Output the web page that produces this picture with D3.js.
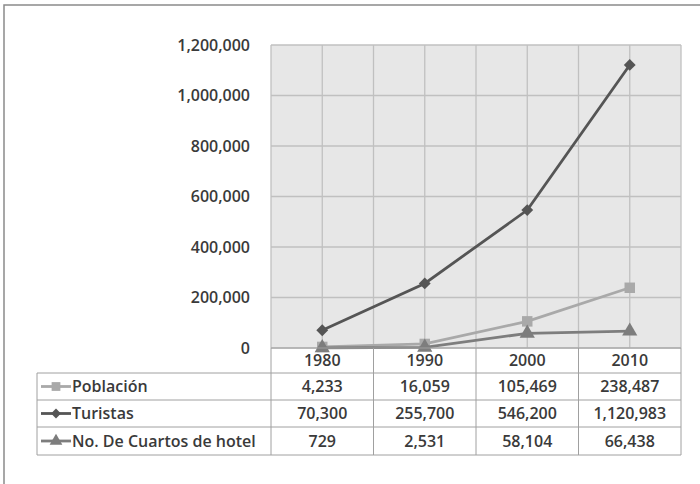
<!doctype html>
<html lang="es">
<head>
<meta charset="UTF-8">
<title>Chart</title>
<script src="https://cdn.jsdelivr.net/npm/d3@7"></script>
<style>
  body { margin: 0; background: #fff; }
  svg text { font-family: "Open Sans", "Noto Sans", sans-serif; fill: #3a3a3a; font-weight: 600; }
</style>
</head>
<body>
<svg width="700" height="484"></svg>
<script>
// data
const years = ["1980", "1990", "2000", "2010"];
const poblacion = [4233, 16059, 105469, 238487];
const turistas = [70300, 255700, 546200, 1120983];
const cuartos = [729, 2531, 58104, 66438];
const yTicks = [0, 200000, 400000, 600000, 800000, 1000000, 1200000];

// rot: rotation of the marker (square turned 45° gives the diamond)
const series = [
    { name: "Población", values: poblacion, color: "#a9a9a9", symbol: d3.symbolSquare, size: 110, rot: 0 },
    { name: "Turistas", values: turistas, color: "#555555", symbol: d3.symbolSquare, size: 70, rot: 45 },
    { name: "No. De Cuartos de hotel", values: cuartos, color: "#7d7d7d", symbol: d3.symbolTriangle, size: 100, rot: 0 }
];

const svg = d3.select("svg");
const plotL = 271, plotR = 681, plotT = 45, plotB = 348;
const tableLeft = 37;
const rowLines = [348, 373, 400, 427, 455];
const fs = 16;

// outer frame (only top/left visible)
svg.append("rect")
    .attr("x", 4).attr("y", 5).attr("width", 720).attr("height", 500)
    .attr("fill", "none").attr("stroke", "#8a8a8a").attr("stroke-width", 1.5);

const x = d3.scaleBand().domain(years).range([plotL, plotR]);
const y = d3.scaleLinear().domain([0, 1200000]).range([plotB, plotT]);

// plot background
svg.append("rect")
    .attr("x", plotL).attr("y", plotT).attr("width", plotR - plotL).attr("height", plotB - plotT)
    .attr("fill", "#e7e7e7");

// grid
const grid = svg.append("g").attr("stroke", "#c0c0c0").attr("stroke-width", 1.3);
yTicks.forEach(t => {
    grid.append("line").attr("x1", plotL).attr("x2", plotR).attr("y1", y(t)).attr("y2", y(t));
});
const vx = [];
years.forEach(yr => { vx.push(x(yr)); vx.push(x(yr) + x.bandwidth() / 2); });
vx.push(plotR);
vx.forEach(v => {
    grid.append("line").attr("x1", v).attr("x2", v).attr("y1", plotT).attr("y2", plotB);
});

// y axis labels
svg.append("g").selectAll("text").data(yTicks).join("text")
    .attr("x", 250).attr("y", d => y(d)).attr("dy", "0.35em")
    .attr("text-anchor", "end").attr("font-size", fs)
    .text(d => d3.format(",")(d));

// lines
const cx = d => x(d) + x.bandwidth() / 2;
const line = d3.line().x((d, i) => cx(years[i])).y(d => y(d));
series.forEach(s => {
    svg.append("path").datum(s.values)
        .attr("d", line).attr("fill", "none")
        .attr("stroke", s.color).attr("stroke-width", 2.8);
    svg.append("g").selectAll("path").data(s.values).join("path")
        .attr("transform", (d, i) => `translate(${cx(years[i])},${y(d)}) rotate(${s.rot})`)
        .attr("d", d3.symbol().type(s.symbol).size(s.size))
        .attr("fill", s.color);
});

// data table
const tbl = svg.append("g").attr("stroke", "#a0a0a0").attr("stroke-width", 1);
tbl.append("line").attr("x1", plotL).attr("x2", plotR).attr("y1", rowLines[0]).attr("y2", rowLines[0]);
rowLines.slice(1).forEach(r => {
    tbl.append("line").attr("x1", tableLeft).attr("x2", plotR).attr("y1", r).attr("y2", r);
});
tbl.append("line").attr("x1", tableLeft).attr("x2", tableLeft).attr("y1", rowLines[1]).attr("y2", rowLines[4]);
years.forEach(yr => {
    tbl.append("line").attr("x1", x(yr)).attr("x2", x(yr)).attr("y1", rowLines[0]).attr("y2", rowLines[4]);
});
tbl.append("line").attr("x1", plotR).attr("x2", plotR).attr("y1", rowLines[0]).attr("y2", rowLines[4]);

// header
svg.append("g").selectAll("text").data(years).join("text")
    .attr("x", d => cx(d)).attr("y", (rowLines[0] + rowLines[1]) / 2).attr("dy", "0.35em")
    .attr("text-anchor", "middle").attr("font-size", fs)
    .text(d => d);

series.forEach((s, si) => {
    const ym = (rowLines[si + 1] + rowLines[si + 2]) / 2;
    // legend key
    svg.append("line").attr("x1", 41).attr("x2", 71).attr("y1", ym).attr("y2", ym)
        .attr("stroke", s.color).attr("stroke-width", 2.8);
    svg.append("path").attr("transform", `translate(56,${ym}) rotate(${s.rot})`)
        .attr("d", d3.symbol().type(s.symbol).size(s.size * 0.7))
        .attr("fill", s.color);
    svg.append("text").attr("x", 72).attr("y", ym).attr("dy", "0.35em")
        .attr("font-size", fs).text(s.name);
    svg.append("g").selectAll("text").data(s.values).join("text")
        .attr("x", (d, i) => cx(years[i])).attr("y", ym).attr("dy", "0.35em")
        .attr("text-anchor", "middle").attr("font-size", fs)
        .text(d => d3.format(",")(d));
});
</script>
</body>
</html>
